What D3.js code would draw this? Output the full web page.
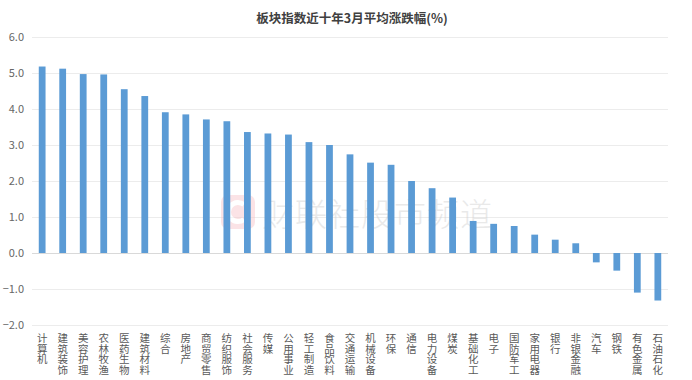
<!DOCTYPE html>
<html>
<head>
<meta charset="utf-8">
<script src="https://cdn.jsdelivr.net/npm/d3@7"></script>
<style>
  body { margin: 0; background: #fff; }
  svg { display: block; }
</style>
</head>
<body>
<div id="chart"></div>
<script>
var categories = ['计算机','建筑装饰','美容护理','农林牧渔','医药生物','建筑材料','综合','房地产',
  '商贸零售','纺织服饰','社会服务','传媒','公用事业','轻工制造','食品饮料','交通运输',
  '机械设备','环保','通信','电力设备','煤炭','基础化工','电子','国防军工','家用电器',
  '银行','非银金融','汽车','钢铁','有色金属','石油石化'];
var values = [5.18, 5.12, 4.97, 4.96, 4.55, 4.36, 3.91, 3.85,
  3.71, 3.66, 3.36, 3.32, 3.29, 3.08, 3.00, 2.74,
  2.51, 2.45, 2.00, 1.80, 1.54, 0.89, 0.81, 0.75, 0.51,
  0.37, 0.27, -0.26, -0.49, -1.10, -1.32];
var yTicks = [-2, -1, 0, 1, 2, 3, 4, 5, 6];
var title = '板块指数近十年3月平均涨跌幅(%)';

var width = 692, height = 380;
var svg = d3.select('#chart').append('svg')
    .attr('width', width)
    .attr('height', height);

var font = '"Noto Sans CJK SC", "Noto Sans", sans-serif';

var x = d3.scaleBand()
    .domain(categories)
    .range([32, 668])
    .paddingInner(0.67)
    .paddingOuter(0.33);

var y = d3.scaleLinear()
    .domain([-2, 6])
    .range([325, 37]);

// title
svg.append('text')
    .attr('x', 352)
    .attr('y', 23)
    .attr('text-anchor', 'middle')
    .attr('font-family', font)
    .attr('font-size', 12.5)
    .attr('font-weight', 'bold')
    .attr('fill', '#404040')
    .text(title);

// gridlines + y labels
var yAxis = d3.axisLeft(y)
    .tickValues(yTicks)
    .tickSize(-(668 - 32))
    .tickPadding(8)
    .tickFormat(d3.format('.1f'));

var gy = svg.append('g')
    .attr('transform', 'translate(32,0)')
    .call(yAxis);
gy.select('.domain').remove();
gy.selectAll('.tick line')
    .attr('stroke', function(d) { return d === 0 ? '#d9d9d9' : '#ececec'; })
    .attr('stroke-width', 1);
gy.selectAll('.tick text')
    .attr('font-family', font)
    .attr('font-size', 11)
    .attr('fill', '#666');

// watermark
var wm = svg.append('g').attr('opacity', 0.45);
wm.append('rect')
    .attr('x', 221).attr('y', 195)
    .attr('width', 34).attr('height', 34)
    .attr('rx', 7)
    .attr('fill', '#f7c3c8');
wm.append('path')
    .attr('d', d3.arc()({innerRadius: 7, outerRadius: 12, startAngle: 0.9, endAngle: 2 * Math.PI - 0.9}))
    .attr('transform', 'translate(238,212) rotate(90)')
    .attr('fill', '#fff');
wm.append('text')
    .attr('x', 262).attr('y', 226)
    .attr('font-family', font)
    .attr('font-size', 32)
    .attr('font-weight', 300)
    .attr('fill', '#d0d0d0')
    .attr('letter-spacing', 1)
    .text('财联社股市频道');

// bars
svg.selectAll('rect.bar')
    .data(values)
    .enter()
    .append('rect')
    .attr('class', 'bar')
    .attr('x', function(d, i) { return x(categories[i]); })
    .attr('y', function(d) { return y(Math.max(0, d)); })
    .attr('width', x.bandwidth())
    .attr('height', function(d) { return Math.abs(y(d) - y(0)); })
    .attr('fill', '#5b9bd5');

// vertical category labels, stacked one character per line
var lab = svg.selectAll('g.cat')
    .data(categories)
    .enter()
    .append('g')
    .attr('class', 'cat')
    .attr('transform', function(d) { return 'translate(' + (x(d) + x.bandwidth() / 2) + ',0)'; });

lab.selectAll('text')
    .data(function(d) { return d.split(''); })
    .enter()
    .append('text')
    .attr('x', 0)
    .attr('y', function(c, j) { return 342 + j * 10.6; })
    .attr('text-anchor', 'middle')
    .attr('font-family', font)
    .attr('font-size', 10.5)
    .attr('fill', '#595959')
    .text(function(c) { return c; });
</script>
</body>
</html>
